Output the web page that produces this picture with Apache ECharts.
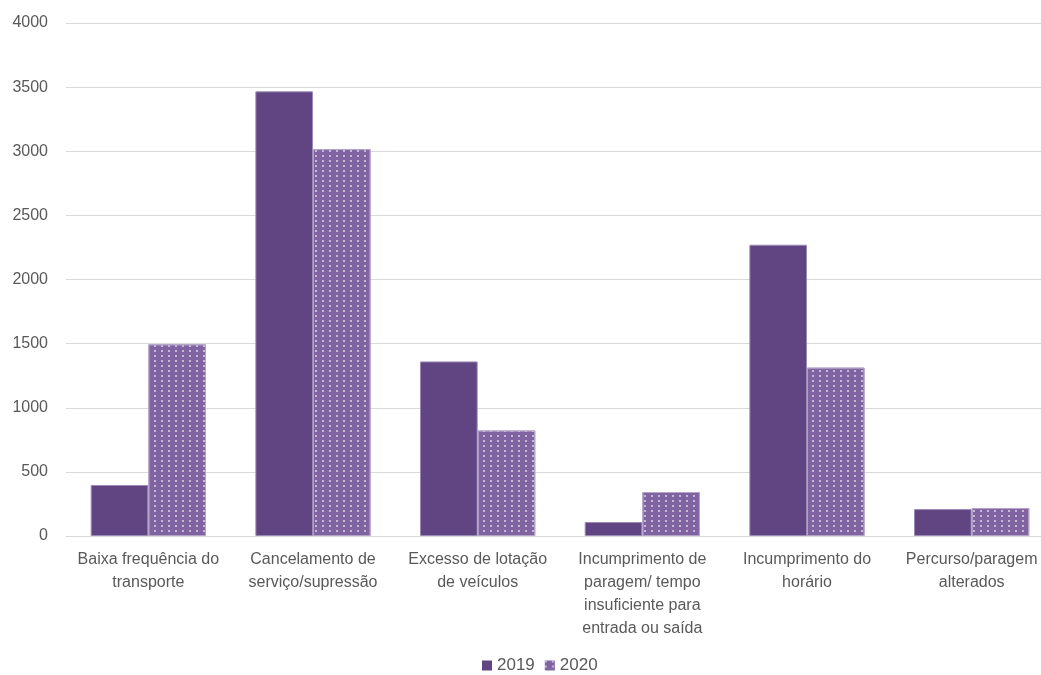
<!DOCTYPE html>
<html>
<head>
<meta charset="utf-8">
<script src="https://cdn.jsdelivr.net/npm/echarts@6/dist/echarts.min.js"></script>
<style>html,body{margin:0;padding:0;background:#fff;}#c{width:1041px;height:675px;}</style>
</head>
<body>
<div id="c"></div>
<script>
var categories = [
  'Baixa frequência do\ntransporte',
  'Cancelamento de\nserviço/supressão',
  'Excesso de lotação\nde veículos',
  'Incumprimento de\nparagem/ tempo\ninsuficiente para\nentrada ou saída',
  'Incumprimento do\nhorário',
  'Percurso/paragem\nalterados'
];
var values2019 = [398, 3467, 1361, 109, 2271, 210];
var values2020 = [1495, 3017, 823, 343, 1313, 218];
var seriesNames = ['2019', '2020'];

var FONT = '"Liberation Sans", Arial, sans-serif';
var chart = echarts.init(document.getElementById('c'), null, {renderer: 'canvas'});
chart.setOption({
  animation: false,
  backgroundColor: '#ffffff',
  textStyle: {fontFamily: FONT},
  grid: {left: 66, right: -13, top: 23, bottom: 139, containLabel: false, outerBoundsMode: 'none'},
  legend: {
    data: seriesNames,
    top: 652,
    left: 477,
    icon: 'rect',
    itemWidth: 10,
    itemHeight: 10,
    itemGap: 10,
    itemStyle: {borderWidth: 0},
    textStyle: {fontFamily: FONT, fontSize: 17, color: '#595959'}
  },
  xAxis: {
    type: 'category',
    data: categories,
    axisLine: {show: true, lineStyle: {color: '#d9d9d9', width: 1}},
    axisTick: {show: false},
    axisLabel: {
      interval: 0,
      margin: 12,
      fontFamily: FONT,
      fontSize: 16,
      color: '#595959',
      lineHeight: 23
    }
  },
  yAxis: {
    type: 'value',
    min: 0,
    max: 4000,
    interval: 500,
    axisLine: {show: false},
    axisTick: {show: false},
    splitLine: {lineStyle: {color: '#d9d9d9', width: 1}},
    axisLabel: {
      margin: 18, fontFamily: FONT, fontSize: 16, color: '#595959',
      formatter: function (v) { return String(v); }
    }
  },
  series: [
    {
      name: seriesNames[0],
      type: 'bar',
      data: values2019,
      barGap: '0%',
      barCategoryGap: '30%',
      itemStyle: {color: '#614583', borderColor: '#9c8ab6', borderWidth: 1}
    },
    {
      name: seriesNames[1],
      type: 'bar',
      data: values2020,
      barGap: '0%',
      barCategoryGap: '30%',
      itemStyle: {
        color: '#8064a2',
        borderColor: '#b3a2c8',
        borderWidth: 1,
        decal: {
          symbol: 'rect',
          symbolSize: 1,
          color: 'rgba(255,255,255,0.55)',
          dashArrayX: [1.5, 4.2],
          dashArrayY: [2, 3],
          rotation: 0
        }
      }
    }
  ]
});
</script>
</body>
</html>
